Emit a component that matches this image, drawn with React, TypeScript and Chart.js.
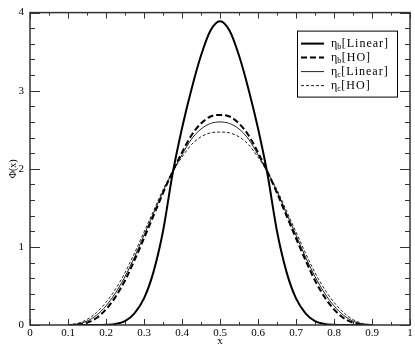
import { useEffect, useRef } from "react";
import { Chart, registerables } from "chart.js";

Chart.register(...registerables);

const xValues = [
  0.1, 0.125, 0.15, 0.175, 0.2, 0.225, 0.25, 0.275, 0.3, 0.325, 0.35, 0.375, 0.4, 0.425, 0.45, 0.475, 0.5,
  0.525, 0.55, 0.575, 0.6, 0.625, 0.65, 0.675, 0.7, 0.725, 0.75, 0.775, 0.8, 0.825, 0.85, 0.875, 0.9,
];

const etaBLinear = [
  0, 0, 0, 0, 0.003, 0.013, 0.05, 0.15, 0.34, 0.68, 1.2, 1.93, 2.52, 3.02, 3.45, 3.77, 3.89,
  3.77, 3.45, 3.02, 2.52, 1.93, 1.2, 0.68, 0.34, 0.15, 0.05, 0.013, 0.003, 0, 0, 0, 0,
];

const etaBHO = [
  0, 0.005, 0.03, 0.09, 0.2, 0.36, 0.57, 0.83, 1.11, 1.4, 1.69, 1.96, 2.21, 2.43, 2.58, 2.67, 2.69,
  2.67, 2.58, 2.43, 2.21, 1.96, 1.69, 1.4, 1.11, 0.83, 0.57, 0.36, 0.2, 0.09, 0.03, 0.005, 0,
];

const etaCLinear = [
  0.002, 0.012, 0.05, 0.125, 0.245, 0.41, 0.62, 0.87, 1.15, 1.43, 1.71, 1.96, 2.18, 2.38, 2.51, 2.58, 2.6,
  2.58, 2.51, 2.38, 2.18, 1.96, 1.71, 1.43, 1.15, 0.87, 0.62, 0.41, 0.245, 0.125, 0.05, 0.012, 0.002,
];

const etaCHO = [
  0.005, 0.02, 0.07, 0.16, 0.29, 0.46, 0.67, 0.92, 1.19, 1.46, 1.73, 1.96, 2.15, 2.31, 2.41, 2.46, 2.47,
  2.46, 2.41, 2.31, 2.15, 1.96, 1.73, 1.46, 1.19, 0.92, 0.67, 0.46, 0.29, 0.16, 0.07, 0.02, 0.005,
];

const seriesLabels = ["η_b[Linear]", "η_b[HO]", "η_c[Linear]", "η_c[HO]"];
const xTitle = "x";
const yTitle = "Φ(x)";

const SERIF = "'Liberation Serif', 'Times New Roman', serif";

function drawSubLabel(ctx: CanvasRenderingContext2D, label: string, x: number, y: number) {
  const m = label.match(/^(.*?)_(\w)(.*)$/);
  const parts = m ? [m[1], m[2], m[3]] : [label, "", ""];
  ctx.textBaseline = "middle";
  ctx.textAlign = "left";
  ctx.font = `12px ${SERIF}`;
  ctx.fillText(parts[0], x, y);
  x += ctx.measureText(parts[0]).width;
  if (parts[1]) {
    ctx.font = `8px ${SERIF}`;
    ctx.fillText(parts[1], x, y + 3);
    x += ctx.measureText(parts[1]).width + 0.5;
  }
  ctx.font = `12px ${SERIF}`;
  (ctx as any).letterSpacing = "1px";
  ctx.fillText(parts[2], x, y);
  (ctx as any).letterSpacing = "0px";
}

const framePlugin = {
  id: "frameTicksLegend",
  afterDatasetsDraw(chart: any) {
    const { ctx, chartArea } = chart;
    const { left, right, top, bottom } = chartArea;
    const xs = chart.scales.x;
    const ys = chart.scales.y;
    ctx.save();
    ctx.strokeStyle = "#333";
    ctx.lineWidth = 1.5;
    ctx.strokeRect(left, top, right - left, bottom - top);

    ctx.lineWidth = 1;
    ctx.strokeStyle = "#333";
    const line = (x1: number, y1: number, x2: number, y2: number) => {
      ctx.beginPath();
      ctx.moveTo(x1, y1);
      ctx.lineTo(x2, y2);
      ctx.stroke();
    };
    const xt = xs.ticks.map((t: any) => t.value);
    for (let i = 0; i < xt.length; i++) {
      const px = Math.round(xs.getPixelForValue(xt[i])) + 0.5;
      line(px, bottom, px, bottom - 6);
      line(px, top, px, top + 6);
      if (i < xt.length - 1) {
        const pm = Math.round(xs.getPixelForValue((xt[i] + xt[i + 1]) / 2)) + 0.5;
        line(pm, bottom, pm, bottom - 3);
        line(pm, top, pm, top + 3);
      }
    }
    const yt = ys.ticks.map((t: any) => t.value);
    for (let i = 0; i < yt.length; i++) {
      const py = Math.round(ys.getPixelForValue(yt[i])) + 0.5;
      line(left, py, left + 10, py);
      line(right, py, right - 10, py);
      if (i < yt.length - 1) {
        for (let k = 1; k < 5; k++) {
          const v = yt[i] + ((yt[i + 1] - yt[i]) * k) / 5;
          const pm = Math.round(ys.getPixelForValue(v)) + 0.5;
          line(left, pm, left + 5, pm);
          line(right, pm, right - 5, pm);
        }
      }
    }

    const bx = right - 113;
    const by = top + 18;
    const bw = 100;
    const bh = 66;
    ctx.fillStyle = "#fff";
    ctx.fillRect(bx, by, bw, bh);
    ctx.strokeStyle = "#000";
    ctx.lineWidth = 1;
    ctx.strokeRect(bx + 0.5, by + 0.5, bw, bh);
    chart.data.datasets.forEach((ds: any, i: number) => {
      const cy = by + 13 + 14 * i;
      ctx.save();
      ctx.strokeStyle = ds.borderColor;
      ctx.lineWidth = ds.borderWidth;
      ctx.setLineDash(ds.borderDash || []);
      ctx.beginPath();
      ctx.moveTo(bx + 4, cy);
      ctx.lineTo(bx + 27, cy);
      ctx.stroke();
      ctx.restore();
      ctx.fillStyle = "#000";
      drawSubLabel(ctx, ds.label, bx + 34, cy);
    });
    ctx.restore();
  },
};

function fmt(v: number) {
  return String(Number(v.toFixed(1)));
}

export default function App() {
  const ref = useRef<HTMLCanvasElement | null>(null);
  useEffect(() => {
    if (!ref.current) return;
    const pts = (arr: number[]) => xValues.map((x, i) => ({ x, y: arr[i] }));
    const chart = new Chart(ref.current, {
      type: "line",
      data: {
        datasets: [
          { label: seriesLabels[0], data: pts(etaBLinear), borderColor: "#000", borderWidth: 2, borderDash: [] },
          { label: seriesLabels[1], data: pts(etaBHO), borderColor: "#000", borderWidth: 2, borderDash: [6, 3] },
          { label: seriesLabels[2], data: pts(etaCLinear), borderColor: "#222", borderWidth: 1, borderDash: [] },
          { label: seriesLabels[3], data: pts(etaCHO), borderColor: "#222", borderWidth: 1, borderDash: [3, 2] },
        ],
      },
      options: {
        animation: false,
        responsive: false,
        devicePixelRatio: 1,
        layout: { padding: { left: 0, top: 4, right: 5, bottom: 0 } },
        elements: { point: { radius: 0 }, line: { cubicInterpolationMode: "monotone", fill: false } },
        plugins: { legend: { display: false }, tooltip: { enabled: false } },
        scales: {
          x: {
            type: "linear",
            min: 0,
            max: 1,
            grid: { display: false, drawTicks: false },
            border: { display: false },
            ticks: {
              stepSize: 0.1,
              padding: 2,
              color: "#000",
              autoSkip: false,
              maxRotation: 0,
              font: { family: SERIF, size: 11 },
              callback: (v: any) => fmt(Number(v)),
            },
            title: {
              display: true,
              text: xTitle,
              color: "#000",
              padding: { top: 0, bottom: 0 },
              font: { family: SERIF, size: 11, lineHeight: 0.85 },
            },
            afterFit: (s: any) => {
              s.height = 21;
            },
          },
          y: {
            type: "linear",
            min: 0,
            max: 4,
            grid: { display: false, drawTicks: false },
            border: { display: false },
            ticks: {
              stepSize: 1,
              padding: 6,
              color: "#000",
              font: { family: SERIF, size: 11 },
              callback: (v: any) => fmt(Number(v)),
            },
            title: { display: true, text: yTitle, color: "#000", padding: { top: 7, bottom: 0 }, font: { family: SERIF, size: 10 } },
            afterFit: (s: any) => {
              s.width = 30;
            },
          },
        },
      },
      plugins: [framePlugin],
    } as any);
    return () => chart.destroy();
  }, []);
  return (
    <div style={{ position: "absolute", left: 0, top: 0, width: 415, height: 346, background: "#fff" }}>
      <canvas ref={ref} width={415} height={346} style={{ display: "block" }} />
    </div>
  );
}
